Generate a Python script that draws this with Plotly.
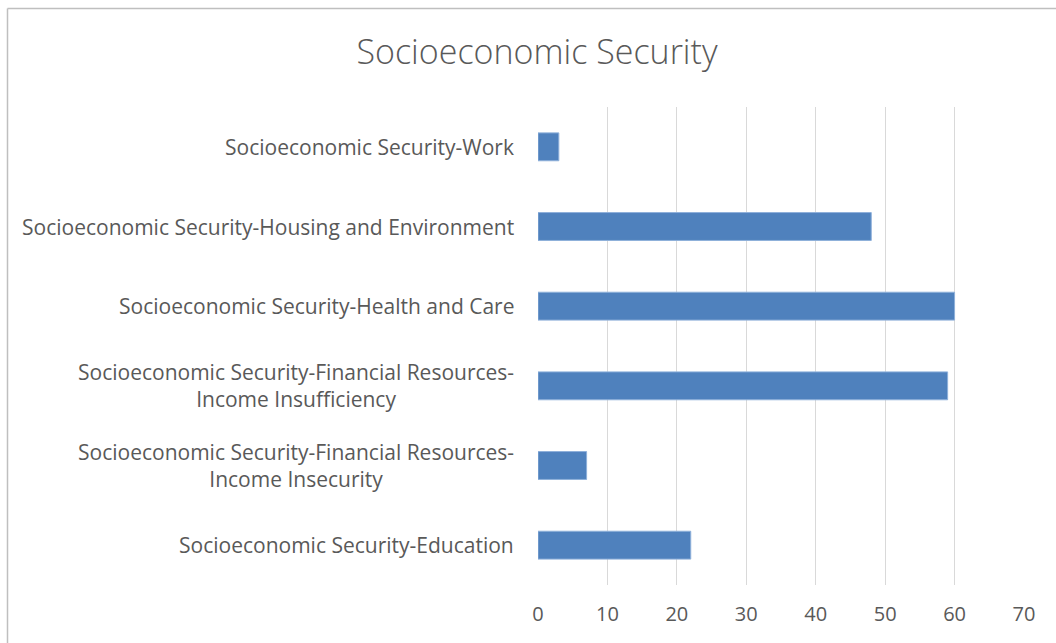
import plotly.graph_objects as go

categories = [
    "Socioeconomic Security-Education",
    "Socioeconomic Security-Financial Resources-<br>Income Insecurity",
    "Socioeconomic Security-Financial Resources-<br>Income Insufficiency",
    "Socioeconomic Security-Health and Care",
    "Socioeconomic Security-Housing and Environment",
    "Socioeconomic Security-Work",
]
values = [22, 7, 59, 60, 48, 3]
x_ticks = [0, 10, 20, 30, 40, 50, 60, 70]

FONT = "Open Sans"
W, H = 1056, 643
L, R, T, B = 538, 32, 107, 58
pw, ph = W - L - R, H - T - B

fig = go.Figure()
fig.add_trace(go.Bar(
    y=categories, x=values, orientation="h",
    marker=dict(color="#4F81BD", line=dict(color="#8EB0DA", width=1)),
    width=0.35,
))

annotations = []
for c in categories:
    annotations.append(dict(
        x=0, xref="paper", y=c, yref="y", xanchor="right", yanchor="middle",
        xshift=-22, text=c, showarrow=False, align="center",
        font=dict(family=FONT, size=21, color="#595959"),
    ))

fig.update_layout(
    width=W, height=H,
    margin=dict(l=L, r=R, t=T, b=B),
    paper_bgcolor="white", plot_bgcolor="white",
    showlegend=False,
    title=dict(text="Socioeconomic Security", x=537 / W, xanchor="center",
               y=1 - 52 / H, yanchor="middle",
               font=dict(family=FONT, size=34, color="#595959", weight=300)),
    xaxis=dict(range=[0, 70], tickvals=x_ticks, showgrid=True, gridcolor="#D9D9D9",
               gridwidth=1, zeroline=False, showline=False,
               tickfont=dict(family=FONT, size=20, color="#595959"),
               ticks="", ticklabelstandoff=15),
    yaxis=dict(categoryorder="array", categoryarray=categories, showticklabels=False,
               showgrid=False, zeroline=False, showline=False),
    annotations=annotations,
    shapes=[
        dict(type="line", xref="paper", yref="paper",
             x0=(7.5 - L) / pw, x1=(W + 5 - L) / pw,
             y0=(H - B - 8.5) / ph, y1=(H - B - 8.5) / ph,
             line=dict(color="#BFBFBF", width=1.5)),
        dict(type="line", xref="paper", yref="paper",
             x0=(7.5 - L) / pw, x1=(7.5 - L) / pw,
             y0=(H - B - 8.5) / ph, y1=-0.2,
             line=dict(color="#BFBFBF", width=1.5)),
    ],
)

fig.write_html("out.html")
